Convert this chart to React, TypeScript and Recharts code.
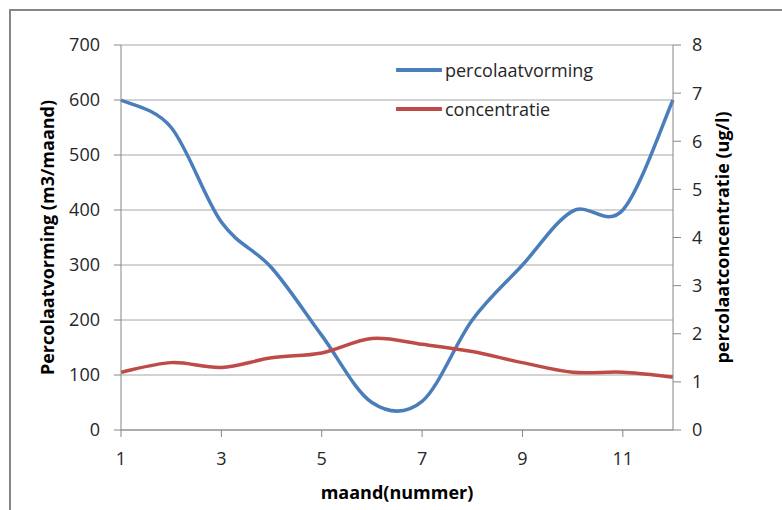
import { LineChart, Line, XAxis, YAxis, CartesianGrid, Legend } from "recharts"

const months = [1, 2, 3, 4, 5, 6, 7, 8, 9, 10, 11, 12]
const percolaatvorming = [600, 550, 378, 295, 172, 50, 52, 200, 300, 398, 400, 600]
const concentratie = [1.2, 1.4, 1.3, 1.5, 1.6, 1.9, 1.78, 1.63, 1.4, 1.2, 1.2, 1.1]

const xTicks = [1, 3, 5, 7, 9, 11]
const leftTicks = [0, 100, 200, 300, 400, 500, 600, 700]
const rightTicks = [0, 1, 2, 3, 4, 5, 6, 7, 8]

const data = months.map((m, i) => ({
  maand: m,
  percolaatvorming: percolaatvorming[i],
  concentratie: concentratie[i],
}))

const BLUE = "#4a7ebb"
const RED = "#be4b48"
const AXIS = "#868686"
const FONT = "'Open Sans', sans-serif"

// smoothing like the office charts: catmull-rom turned into beziers
function officeSmooth(context: any) {
  let xs: number[] = []
  let ys: number[] = []
  return {
    areaStart() {},
    areaEnd() {},
    lineStart() {
      xs = []
      ys = []
    },
    point(x: number, y: number) {
      xs.push(+x)
      ys.push(+y)
    },
    lineEnd() {
      const n = xs.length
      if (!n) return
      context.moveTo(xs[0], ys[0])
      for (let i = 0; i < n - 1; i++) {
        const a = Math.max(i - 1, 0)
        const d = Math.min(i + 2, n - 1)
        context.bezierCurveTo(
          xs[i] + (xs[i + 1] - xs[a]) / 6,
          ys[i] + (ys[i + 1] - ys[a]) / 6,
          xs[i + 1] - (xs[d] - xs[i]) / 6,
          ys[i + 1] - (ys[d] - ys[i]) / 6,
          xs[i + 1],
          ys[i + 1]
        )
      }
    },
  }
}

const tickStyle = { fill: "#262626", fontSize: 18, fontFamily: FONT }
const titleStyle = { fontFamily: FONT, fontSize: 18, fontWeight: 700, fill: "#000", textAnchor: "middle" as const }

function LegendBox() {
  const items = [
    { name: "percolaatvorming", color: BLUE },
    { name: "concentratie", color: RED },
  ]
  return (
    <div style={{ fontFamily: FONT, fontSize: 18, color: "#262626" }}>
      {items.map((it) => (
        <div key={it.name} style={{ display: "flex", alignItems: "center", height: 39 }}>
          <svg width={46} height={8} style={{ marginRight: 3 }}>
            <line x1={1} y1={4} x2={45} y2={4} stroke={it.color} strokeWidth={4} strokeLinecap="round" />
          </svg>
          <span>{it.name}</span>
        </div>
      ))}
    </div>
  )
}

export default function App() {
  return (
    <div style={{ position: "absolute", left: 0, top: 0, width: 782, height: 510, overflow: "hidden", background: "#fff" }}>
      <div
        style={{
          position: "absolute",
          left: 9,
          top: 9,
          width: 800,
          height: 530,
          border: `2px solid ${AXIS}`,
        }}
      />
      <div style={{ position: "absolute", left: 0, top: 0 }}>
        <LineChart width={782} height={510} data={data} margin={{ top: 45, right: 20, bottom: 10, left: 20 }}>
          <CartesianGrid vertical={false} stroke="#a6a6a6" yAxisId="left" />
          <XAxis
            dataKey="maand"
            type="number"
            domain={[1, 12]}
            ticks={xTicks}
            height={70}
            stroke={AXIS}
            tickSize={7}
            tickMargin={15}
            tick={tickStyle}
            label={{ value: "maand(nummer)", position: "insideBottom", offset: 1, style: titleStyle }}
          />
          <YAxis
            yAxisId="left"
            domain={[0, 700]}
            ticks={leftTicks}
            width={101}
            stroke={AXIS}
            tickSize={7}
            tickMargin={14}
            tick={tickStyle}
            label={{ value: "Percolaatvorming (m3/maand)", angle: -90, position: "center", dx: -23, style: titleStyle }}
          />
          <YAxis
            yAxisId="right"
            orientation="right"
            domain={[0, 8]}
            ticks={rightTicks}
            width={89}
            stroke={AXIS}
            tickSize={8}
            tickMargin={11}
            tick={tickStyle}
            label={{ value: "percolaatconcentratie (ug/l)", angle: -90, position: "center", dx: 5, style: titleStyle }}
          />
          <Legend
            layout="vertical"
            verticalAlign="middle"
            align="center"
            content={<LegendBox />}
            wrapperStyle={{ left: 396, top: 50, width: 260 }}
          />
          <Line
            yAxisId="left"
            dataKey="percolaatvorming"
            type={officeSmooth as any}
            stroke={BLUE}
            strokeWidth={3.5}
            dot={false}
            isAnimationActive={false}
          />
          <Line
            yAxisId="right"
            dataKey="concentratie"
            type={officeSmooth as any}
            stroke={RED}
            strokeWidth={3.5}
            dot={false}
            isAnimationActive={false}
          />
        </LineChart>
      </div>
    </div>
  )
}
